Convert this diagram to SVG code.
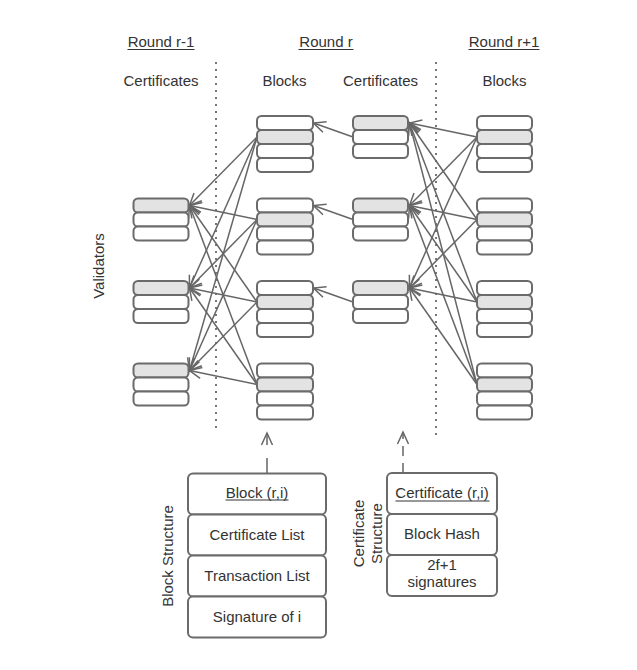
<svg xmlns="http://www.w3.org/2000/svg" width="637" height="670" viewBox="0 0 637 670">
  <style>
    .bg { fill: #ffffff; }
    .row { fill: #ffffff; stroke: #6b6b6b; stroke-width: 2; }
    .hl { fill: #e3e3e3; }
    .cell { fill: #ffffff; stroke: #6b6b6b; stroke-width: 2; }
    .lbl { font-family: "Liberation Sans", Arial, sans-serif; font-size: 15px; fill: #333333; }
    .mid { text-anchor: middle; }
    .ul { stroke: #333333; stroke-width: 1; }
    .sep { stroke: #777777; stroke-width: 2; stroke-dasharray: 2 5; fill: none; }
    .edge { stroke: #666666; stroke-width: 1.5; fill: none; marker-end: url(#arr); }
  </style>
  <defs>
    <marker id="arr" markerUnits="userSpaceOnUse" viewBox="0 0 14 12" markerWidth="14" markerHeight="12" refX="13" refY="6" orient="auto" overflow="visible">
      <path d="M1,0.5 L13,6 L1,11.5" fill="none" stroke="#666666" stroke-width="1.5"/>
    </marker>
    <!-- stack rows -->
    <rect id="r55" width="55" height="14" rx="4.5"/>
    <rect id="r56" width="56" height="14" rx="4.5"/>
  </defs>

  <rect class="bg" x="0" y="0" width="637" height="670"/>

  <!-- headers -->
  <g id="headers">
    <text class="lbl mid" x="161" y="47">Round r-1</text>
    <line class="ul" x1="127.5" y1="49.5" x2="194.5" y2="49.5"/>
    <text class="lbl mid" x="326" y="47">Round r</text>
    <line class="ul" x1="298.5" y1="49.5" x2="353.5" y2="49.5"/>
    <text class="lbl mid" x="504" y="47">Round r+1</text>
    <line class="ul" x1="468.5" y1="49.5" x2="539.5" y2="49.5"/>
    <text class="lbl mid" x="161" y="86">Certificates</text>
    <text class="lbl mid" x="284.5" y="86">Blocks</text>
    <text class="lbl mid" x="380.5" y="86">Certificates</text>
    <text class="lbl mid" x="504.5" y="86">Blocks</text>
    <text class="lbl mid" transform="translate(104 266) rotate(-90)">Validators</text>
  </g>

  <!-- round separators -->
  <g id="separators">
    <line class="sep" x1="216" y1="62" x2="216" y2="429"/>
    <line class="sep" x1="436" y1="62" x2="436" y2="439"/>
  </g>

  <!-- connectors -->
  <g id="connectors">
    <!-- round r blocks -> round r-1 certificates -->
    <line class="edge" x1="257" y1="137" x2="189.5" y2="205.5"/>
    <line class="edge" x1="257" y1="137" x2="189.5" y2="288"/>
    <line class="edge" x1="257" y1="137" x2="189.5" y2="370.5"/>
    <line class="edge" x1="257" y1="219.5" x2="189.5" y2="205.5"/>
    <line class="edge" x1="257" y1="219.5" x2="189.5" y2="288"/>
    <line class="edge" x1="257" y1="219.5" x2="189.5" y2="370.5"/>
    <line class="edge" x1="257" y1="302" x2="189.5" y2="205.5"/>
    <line class="edge" x1="257" y1="302" x2="189.5" y2="288"/>
    <line class="edge" x1="257" y1="302" x2="189.5" y2="370.5"/>
    <line class="edge" x1="257" y1="384.5" x2="189.5" y2="205.5"/>
    <line class="edge" x1="257" y1="384.5" x2="189.5" y2="288"/>
    <line class="edge" x1="257" y1="384.5" x2="189.5" y2="370.5"/>
    <!-- round r certificates -> round r blocks -->
    <line class="edge" x1="353" y1="137" x2="313.5" y2="123"/>
    <line class="edge" x1="353" y1="219.5" x2="313.5" y2="205.5"/>
    <line class="edge" x1="353" y1="302" x2="313.5" y2="288"/>
    <!-- round r+1 blocks -> round r certificates -->
    <line class="edge" x1="477" y1="137" x2="409.5" y2="123"/>
    <line class="edge" x1="477" y1="137" x2="409.5" y2="205.5"/>
    <line class="edge" x1="477" y1="137" x2="409.5" y2="288"/>
    <line class="edge" x1="477" y1="219.5" x2="409.5" y2="123"/>
    <line class="edge" x1="477" y1="219.5" x2="409.5" y2="205.5"/>
    <line class="edge" x1="477" y1="219.5" x2="409.5" y2="288"/>
    <line class="edge" x1="477" y1="302" x2="409.5" y2="123"/>
    <line class="edge" x1="477" y1="302" x2="409.5" y2="205.5"/>
    <line class="edge" x1="477" y1="302" x2="409.5" y2="288"/>
    <line class="edge" x1="477" y1="384.5" x2="409.5" y2="123"/>
    <line class="edge" x1="477" y1="384.5" x2="409.5" y2="205.5"/>
    <line class="edge" x1="477" y1="384.5" x2="409.5" y2="288"/>
    <!-- structure pointers -->
    <line class="edge" x1="267" y1="473" x2="267" y2="433" stroke-dasharray="15 13"/>
    <line class="edge" x1="403" y1="473" x2="403" y2="432" stroke-dasharray="10 7"/>
  </g>

  <!-- round r-1 certificates -->
  <g id="cert-prev-1" transform="translate(133.5 198.5)">
    <use href="#r55" class="row hl" y="0"/><use href="#r55" class="row" y="14"/><use href="#r55" class="row" y="28"/>
  </g>
  <g id="cert-prev-2" transform="translate(133.5 281)">
    <use href="#r55" class="row hl" y="0"/><use href="#r55" class="row" y="14"/><use href="#r55" class="row" y="28"/>
  </g>
  <g id="cert-prev-3" transform="translate(133.5 363.5)">
    <use href="#r55" class="row hl" y="0"/><use href="#r55" class="row" y="14"/><use href="#r55" class="row" y="28"/>
  </g>

  <!-- round r blocks -->
  <g id="block-r-1" transform="translate(257 116)">
    <use href="#r56" class="row" y="0"/><use href="#r56" class="row hl" y="14"/><use href="#r56" class="row" y="28"/><use href="#r56" class="row" y="42"/>
  </g>
  <g id="block-r-2" transform="translate(257 198.5)">
    <use href="#r56" class="row" y="0"/><use href="#r56" class="row hl" y="14"/><use href="#r56" class="row" y="28"/><use href="#r56" class="row" y="42"/>
  </g>
  <g id="block-r-3" transform="translate(257 281)">
    <use href="#r56" class="row" y="0"/><use href="#r56" class="row hl" y="14"/><use href="#r56" class="row" y="28"/><use href="#r56" class="row" y="42"/>
  </g>
  <g id="block-r-4" transform="translate(257 363.5)">
    <use href="#r56" class="row" y="0"/><use href="#r56" class="row hl" y="14"/><use href="#r56" class="row" y="28"/><use href="#r56" class="row" y="42"/>
  </g>

  <!-- round r certificates -->
  <g id="cert-r-1" transform="translate(353 116)">
    <use href="#r55" class="row hl" y="0"/><use href="#r55" class="row" y="14"/><use href="#r55" class="row" y="28"/>
  </g>
  <g id="cert-r-2" transform="translate(353 198.5)">
    <use href="#r55" class="row hl" y="0"/><use href="#r55" class="row" y="14"/><use href="#r55" class="row" y="28"/>
  </g>
  <g id="cert-r-3" transform="translate(353 281)">
    <use href="#r55" class="row hl" y="0"/><use href="#r55" class="row" y="14"/><use href="#r55" class="row" y="28"/>
  </g>

  <!-- round r+1 blocks -->
  <g id="block-next-1" transform="translate(477 116)">
    <use href="#r55" class="row" y="0"/><use href="#r55" class="row hl" y="14"/><use href="#r55" class="row" y="28"/><use href="#r55" class="row" y="42"/>
  </g>
  <g id="block-next-2" transform="translate(477 198.5)">
    <use href="#r55" class="row" y="0"/><use href="#r55" class="row hl" y="14"/><use href="#r55" class="row" y="28"/><use href="#r55" class="row" y="42"/>
  </g>
  <g id="block-next-3" transform="translate(477 281)">
    <use href="#r55" class="row" y="0"/><use href="#r55" class="row hl" y="14"/><use href="#r55" class="row" y="28"/><use href="#r55" class="row" y="42"/>
  </g>
  <g id="block-next-4" transform="translate(477 363.5)">
    <use href="#r55" class="row" y="0"/><use href="#r55" class="row hl" y="14"/><use href="#r55" class="row" y="28"/><use href="#r55" class="row" y="42"/>
  </g>

  <!-- block structure -->
  <g id="block-structure">
    <rect class="cell" x="188" y="473.5" width="138" height="41" rx="5"/>
    <rect class="cell hl" x="188" y="514.5" width="138" height="41" rx="5"/>
    <rect class="cell" x="188" y="555.5" width="138" height="41" rx="5"/>
    <rect class="cell" x="188" y="596.5" width="138" height="41" rx="5"/>
    <text class="lbl mid" x="257" y="497.5">Block (r,i)</text>
    <line class="ul" x1="225.5" y1="500" x2="288.5" y2="500"/>
    <text class="lbl mid" x="257" y="540">Certificate List</text>
    <text class="lbl mid" x="257" y="581">Transaction List</text>
    <text class="lbl mid" x="257" y="622">Signature of i</text>
    <text class="lbl mid" transform="translate(173 556) rotate(-90)">Block Structure</text>
  </g>

  <!-- certificate structure -->
  <g id="certificate-structure">
    <rect class="cell hl" x="387" y="473" width="110" height="41" rx="5"/>
    <rect class="cell" x="387" y="514" width="110" height="41" rx="5"/>
    <rect class="cell" x="387" y="555" width="110" height="41" rx="5"/>
    <text class="lbl mid" x="442" y="498">Certificate (r,i)</text>
    <line class="ul" x1="395.5" y1="501" x2="489.5" y2="501"/>
    <text class="lbl mid" x="442" y="539">Block Hash</text>
    <text class="lbl mid" x="442" y="570">2f+1</text>
    <text class="lbl mid" x="442" y="587">signatures</text>
    <text class="lbl mid" transform="translate(364 533.5) rotate(-90)">Certificate</text>
    <text class="lbl mid" transform="translate(381.5 533.5) rotate(-90)">Structure</text>
  </g>
</svg>
